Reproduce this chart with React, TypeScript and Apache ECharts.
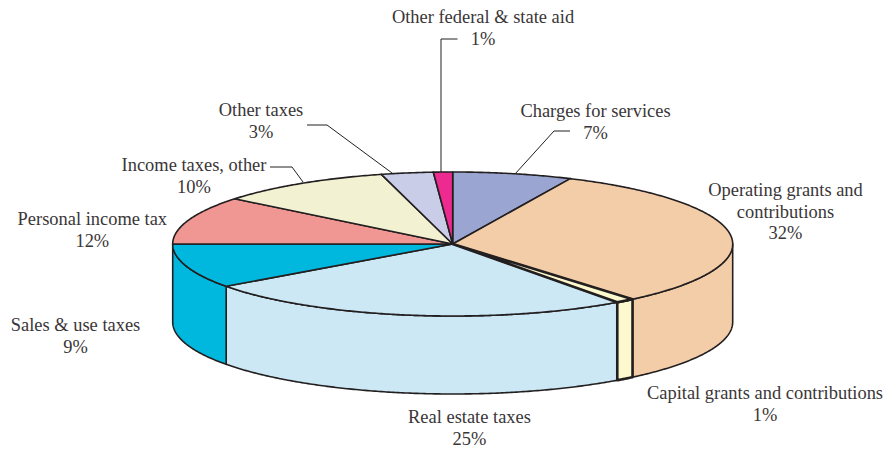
import React, { useEffect, useRef } from "react";
import * as echarts from "echarts";

const categories = [
  "Charges for services",
  "Operating grants and contributions",
  "Capital grants and contributions",
  "Real estate taxes",
  "Sales & use taxes",
  "Personal income tax",
  "Income taxes, other",
  "Other taxes",
  "Other federal & state aid",
];
// slice sizes as drawn in the picture (share of the full circle, %)
const sliceShares = [6.9, 32.0, 1.1, 25.0, 10.0, 10.8, 10.1, 3.0, 1.1];
// percentages as printed beside the slices
const printedPercents = ["7%", "32%", "1%", "25%", "9%", "12%", "10%", "3%", "1%"];
const sliceColors = ["#9aa5d1", "#f3cda8", "#fdf9cf", "#cbe8f4", "#00b7de", "#f19793", "#f2f2d3", "#c9cde8", "#ec2a90"];
const sliceStrokeWidths = [1.6, 1.6, 2.6, 1.6, 1.6, 1.6, 1.6, 1.6, 1.6];

const INK = "#231f20";
const TEXT = "#3a3637";
const FONT = "'Liberation Serif', serif";
const FONT_SIZE = 18.45;
const LINE_H = 21.5;
const CX = 452.7;
const CY = 244;
const RX = 280;
const RY = 72;
const DEPTH = 78;

const labelPlaces: { lines: string[]; x: number; y: number }[] = [
  { lines: ["Charges for services"], x: 595.5, y: 111 },
  { lines: ["Operating grants and", "contributions"], x: 785.5, y: 190 },
  { lines: ["Capital grants and contributions"], x: 765, y: 393 },
  { lines: ["Real estate taxes"], x: 469.5, y: 417 },
  { lines: ["Sales & use taxes"], x: 75.5, y: 325 },
  { lines: ["Personal income tax"], x: 92.3, y: 219 },
  { lines: ["Income taxes, other"], x: 194, y: 165 },
  { lines: ["Other taxes"], x: 261, y: 110 },
  { lines: ["Other federal & state aid"], x: 483, y: 17 },
];

const leaders: number[][][] = [
  [[570, 131], [554, 131], [515, 174]],
  [[307, 125], [327, 125], [392, 173]],
  [[270, 167], [292, 167], [303, 182]],
  [[457.5, 39], [441, 39], [441, 172]],
];

const total = sliceShares.reduce((a, b) => a + b, 0);
const bounds: number[] = [0];
sliceShares.forEach((v, i) => bounds.push(bounds[i] + (v / total) * 360));

// angle measured clockwise from the top of the ellipse, in degrees
const topPoint = (deg: number): number[] => {
  const r = (deg * Math.PI) / 180;
  return [CX + RX * Math.sin(r), CY - RY * Math.cos(r)];
};
const arc = (from: number, to: number): number[][] => {
  const n = Math.max(2, Math.ceil((to - from) / 0.5));
  const pts: number[][] = [];
  for (let i = 0; i <= n; i++) pts.push(topPoint(from + ((to - from) * i) / n));
  return pts;
};

const renderWall = (params: any) => {
  const i = params.dataIndex;
  const from = Math.max(bounds[i], 90);
  const to = Math.min(bounds[i + 1], 270);
  if (to <= from) return null;
  const upper = arc(from, to);
  const lower = upper.map((p) => [p[0], p[1] + DEPTH]).reverse();
  return {
    type: "polygon",
    z2: sliceStrokeWidths[i] > 2 ? 5 : 1,
    shape: { points: [...upper, ...lower] },
    style: { fill: sliceColors[i], stroke: INK, lineWidth: sliceStrokeWidths[i], lineJoin: "round" },
  };
};

const renderTop = (params: any) => {
  const i = params.dataIndex;
  return {
    type: "polygon",
    z2: sliceStrokeWidths[i] > 2 ? 15 : 10,
    shape: { points: [[CX, CY], ...arc(bounds[i], bounds[i + 1])] },
    style: { fill: sliceColors[i], stroke: INK, lineWidth: sliceStrokeWidths[i], lineJoin: "round" },
  };
};

export default function App() {
  const ref = useRef<HTMLDivElement>(null);
  useEffect(() => {
    document.body.style.margin = "0";
    const chart = echarts.init(ref.current!, undefined, { renderer: "svg" });
    const texts: any[] = [];
    labelPlaces.forEach((p, i) => {
      [...p.lines, printedPercents[i]].forEach((line, k) => {
        texts.push({
          type: "text",
          x: p.x,
          y: p.y + k * LINE_H,
          style: { text: line, fill: TEXT, font: `${FONT_SIZE}px ${FONT}`, textAlign: "center", textVerticalAlign: "middle" },
        });
      });
    });
    const lines = leaders.map((pts) => ({
      type: "polyline",
      shape: { points: pts },
      z: 10,
      style: { stroke: INK, lineWidth: 1, fill: "none" },
    }));
    chart.setOption({
      animation: false,
      backgroundColor: "#ffffff",
      graphic: { elements: [...lines, ...texts] },
      series: [
        {
          type: "custom",
          name: "Revenue sides",
          coordinateSystem: "none",
          renderItem: renderWall,
          data: sliceShares.map((v, i) => ({ name: categories[i], value: v })),
          silent: true,
          z: 1,
        },
        {
          type: "custom",
          name: "Revenue shares",
          coordinateSystem: "none",
          renderItem: renderTop,
          data: sliceShares.map((v, i) => ({ name: categories[i], value: v })),
          silent: true,
          z: 2,
        },
      ],
    });
    return () => chart.dispose();
  }, []);
  return <div ref={ref} style={{ width: 888, height: 449 }} />;
}
